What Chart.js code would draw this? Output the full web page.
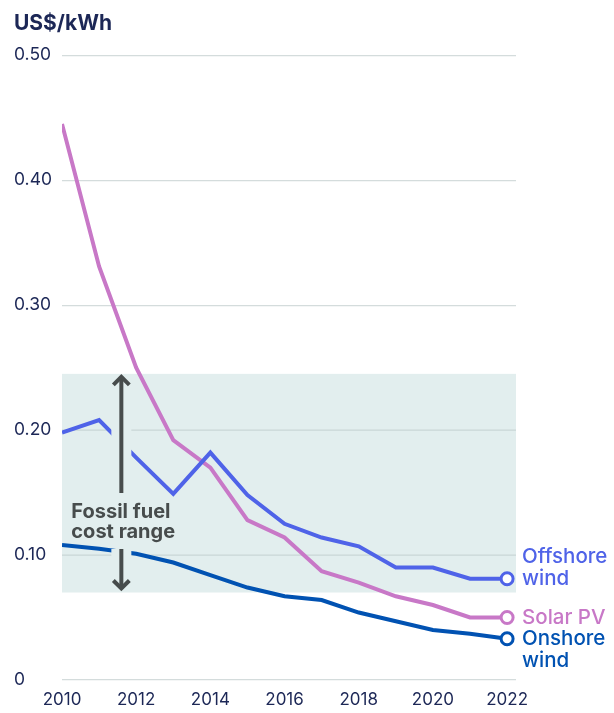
<!DOCTYPE html>
<html>
<head>
<meta charset="utf-8">
<script src="https://cdn.jsdelivr.net/npm/chart.js@4.4.1/dist/chart.umd.min.js"></script>
<style>
  html, body { margin: 0; padding: 0; background: #ffffff; }
  #wrap { width: 614px; height: 713px; position: relative; }
</style>
</head>
<body>
<div id="wrap"><canvas id="c" width="614" height="713"></canvas></div>
<script>
// ---- data ----
const years = [2010, 2011, 2012, 2013, 2014, 2015, 2016, 2017, 2018, 2019, 2020, 2021, 2022];
const offshoreWind = [0.198, 0.208, 0.178, 0.149, 0.182, 0.148, 0.125, 0.114, 0.107, 0.090, 0.090, 0.081, 0.081];
const solarPV      = [0.445, 0.331, 0.250, 0.192, 0.170, 0.128, 0.114, 0.087, 0.078, 0.067, 0.060, 0.050, 0.050];
const onshoreWind  = [0.108, 0.105, 0.101, 0.094, 0.084, 0.074, 0.067, 0.064, 0.054, 0.047, 0.040, 0.037, 0.033];
const xTickYears = [2010, 2012, 2014, 2016, 2018, 2020, 2022];
const yTickValues = [0, 0.1, 0.2, 0.3, 0.4, 0.5];
const fossilRange = [0.07, 0.245];
const seriesLabels = [["Offshore", "wind"], ["Solar PV"], ["Onshore", "wind"]];
const unitLabel = "US$/kWh";
const fossilLabel = ["Fossil fuel", "cost range"];

// ---- styles ----
const NAVY = '#1c2756';
const C_OFF = '#4f63e8';
const C_SOL = '#c878c7';
const C_ON = '#0152b2';
const BAND = '#e2eeee';
const ARROW = '#474c4c';
const FONT = 'Inter, "Open Sans", sans-serif';

const toXY = arr => arr.map((v, i) => ({x: years[i], y: v}));
const lastOnly = (r) => years.map((_, i) => i === years.length - 1 ? r : 0);

const bandPlugin = {
  id: 'band',
  beforeDatasetsDraw(chart) {
    const {ctx, chartArea, scales: {y}} = chart;
    const top = y.getPixelForValue(fossilRange[1]);
    const bot = y.getPixelForValue(fossilRange[0]);
    ctx.save();
    ctx.fillStyle = BAND;
    ctx.fillRect(chartArea.left, top, chartArea.right - chartArea.left, bot - top);
    ctx.strokeStyle = '#c9d6d6';
    ctx.lineWidth = 1.2;
    yTickValues.forEach(v => {
      const py = y.getPixelForValue(v);
      if (py > top && py < bot) {
        ctx.beginPath();
        ctx.moveTo(chartArea.left, py);
        ctx.lineTo(chartArea.right, py);
        ctx.stroke();
      }
    });
    ctx.restore();
  }
};

const arrowPlugin = {
  id: 'fossilArrow',
  afterDatasetsDraw(chart) {
    const {ctx, scales: {x, y}} = chart;
    const ax = x.getPixelForValue(2011.6);
    const top = y.getPixelForValue(fossilRange[1]) + 1;
    const bot = y.getPixelForValue(fossilRange[0]) - 2;
    const textMid = y.getPixelForValue(0.1265);
    const gapTop = textMid - 29, gapBot = textMid + 27;
    ctx.save();
    ctx.strokeStyle = BAND;
    ctx.lineWidth = 20;
    ctx.lineCap = 'butt';
    ctx.beginPath();
    ctx.moveTo(ax, top + 4); ctx.lineTo(ax, gapTop);
    ctx.moveTo(ax, gapBot); ctx.lineTo(ax, bot - 4);
    ctx.stroke();
    ctx.strokeStyle = ARROW;
    ctx.lineWidth = 4;
    ctx.beginPath();
    ctx.moveTo(ax, top + 2); ctx.lineTo(ax, gapTop);
    ctx.moveTo(ax, gapBot); ctx.lineTo(ax, bot - 2);
    ctx.stroke();
    ctx.lineJoin = 'miter';
    ctx.beginPath();
    ctx.moveTo(ax - 8, top + 10); ctx.lineTo(ax, top + 2); ctx.lineTo(ax + 8, top + 10);
    ctx.moveTo(ax - 8, bot - 10); ctx.lineTo(ax, bot - 2); ctx.lineTo(ax + 8, bot - 10);
    ctx.stroke();
    ctx.fillStyle = ARROW;
    ctx.font = 'bold 20px ' + FONT;
    ctx.textAlign = 'left';
    ctx.textBaseline = 'middle';
    ctx.fillText(fossilLabel[0], ax - 50, textMid - 10);
    ctx.fillText(fossilLabel[1], ax - 50, textMid + 10);
    ctx.restore();
  }
};

const endLabelPlugin = {
  id: 'endLabels',
  afterDatasetsDraw(chart) {
    const {ctx, chartArea} = chart;
    const colors = [C_OFF, C_SOL, C_ON];
    const offsets = [-1, 0, 0];
    ctx.save();
    ctx.font = '500 20.5px ' + FONT;
    ctx.textAlign = 'left';
    ctx.textBaseline = 'middle';
    chart.data.datasets.forEach((ds, i) => {
      const meta = chart.getDatasetMeta(i);
      const pt = meta.data[meta.data.length - 1];
      ctx.fillStyle = colors[i];
      seriesLabels[i].forEach((t, k) => {
        ctx.fillText(t, chartArea.right + 6, pt.y + (k + offsets[i]) * 22);
      });
    });
    ctx.restore();
  }
};

new Chart(document.getElementById('c'), {
  type: 'line',
  data: {
    datasets: [
      {label: 'Offshore wind', data: toXY(offshoreWind), borderColor: C_OFF, pointBorderColor: C_OFF},
      {label: 'Solar PV', data: toXY(solarPV), borderColor: C_SOL, pointBorderColor: C_SOL},
      {label: 'Onshore wind', data: toXY(onshoreWind), borderColor: C_ON, pointBorderColor: C_ON}
    ].map(d => Object.assign(d, {
      borderWidth: 4, tension: 0, fill: false,
      pointRadius: lastOnly(6), pointHoverRadius: lastOnly(6),
      pointBackgroundColor: '#ffffff', pointBorderWidth: 3,
      borderJoinStyle: 'miter'
    }))
  },
  options: {
    responsive: false,
    animation: false,
    events: [],
    layout: {padding: {left: 14, right: 98, top: 0, bottom: 0}},
    plugins: {
      legend: {display: false},
      tooltip: {enabled: false},
      title: {
        display: true, text: unitLabel, align: 'start', color: NAVY,
        font: {family: FONT, size: 21, weight: 'bold'},
        padding: {top: 11, bottom: 19}
      }
    },
    scales: {
      x: {
        type: 'linear', min: 2010, max: 2022.24,
        afterBuildTicks: s => { s.ticks = xTickYears.map(v => ({value: v})); },
        afterFit: s => { s.height = 33; },
        grid: {display: false, drawTicks: false},
        border: {display: false},
        ticks: {color: NAVY, font: {family: FONT, size: 17}, padding: 10, maxRotation: 0,
          callback: v => String(v)}
      },
      y: {
        min: 0, max: 0.5,
        afterBuildTicks: s => { s.ticks = yTickValues.map(v => ({value: v})); },
        afterFit: s => { s.width = 48; },
        grid: {color: '#d4dcdc', lineWidth: 1.2, drawTicks: false},
        border: {display: false},
        ticks: {color: NAVY, font: {family: FONT, size: 17.5}, crossAlign: 'far', padding: 10,
          callback: v => v === 0 ? '0' : v.toFixed(2)}
      }
    }
  },
  plugins: [bandPlugin, arrowPlugin, endLabelPlugin]
});
</script>
</body>
</html>
